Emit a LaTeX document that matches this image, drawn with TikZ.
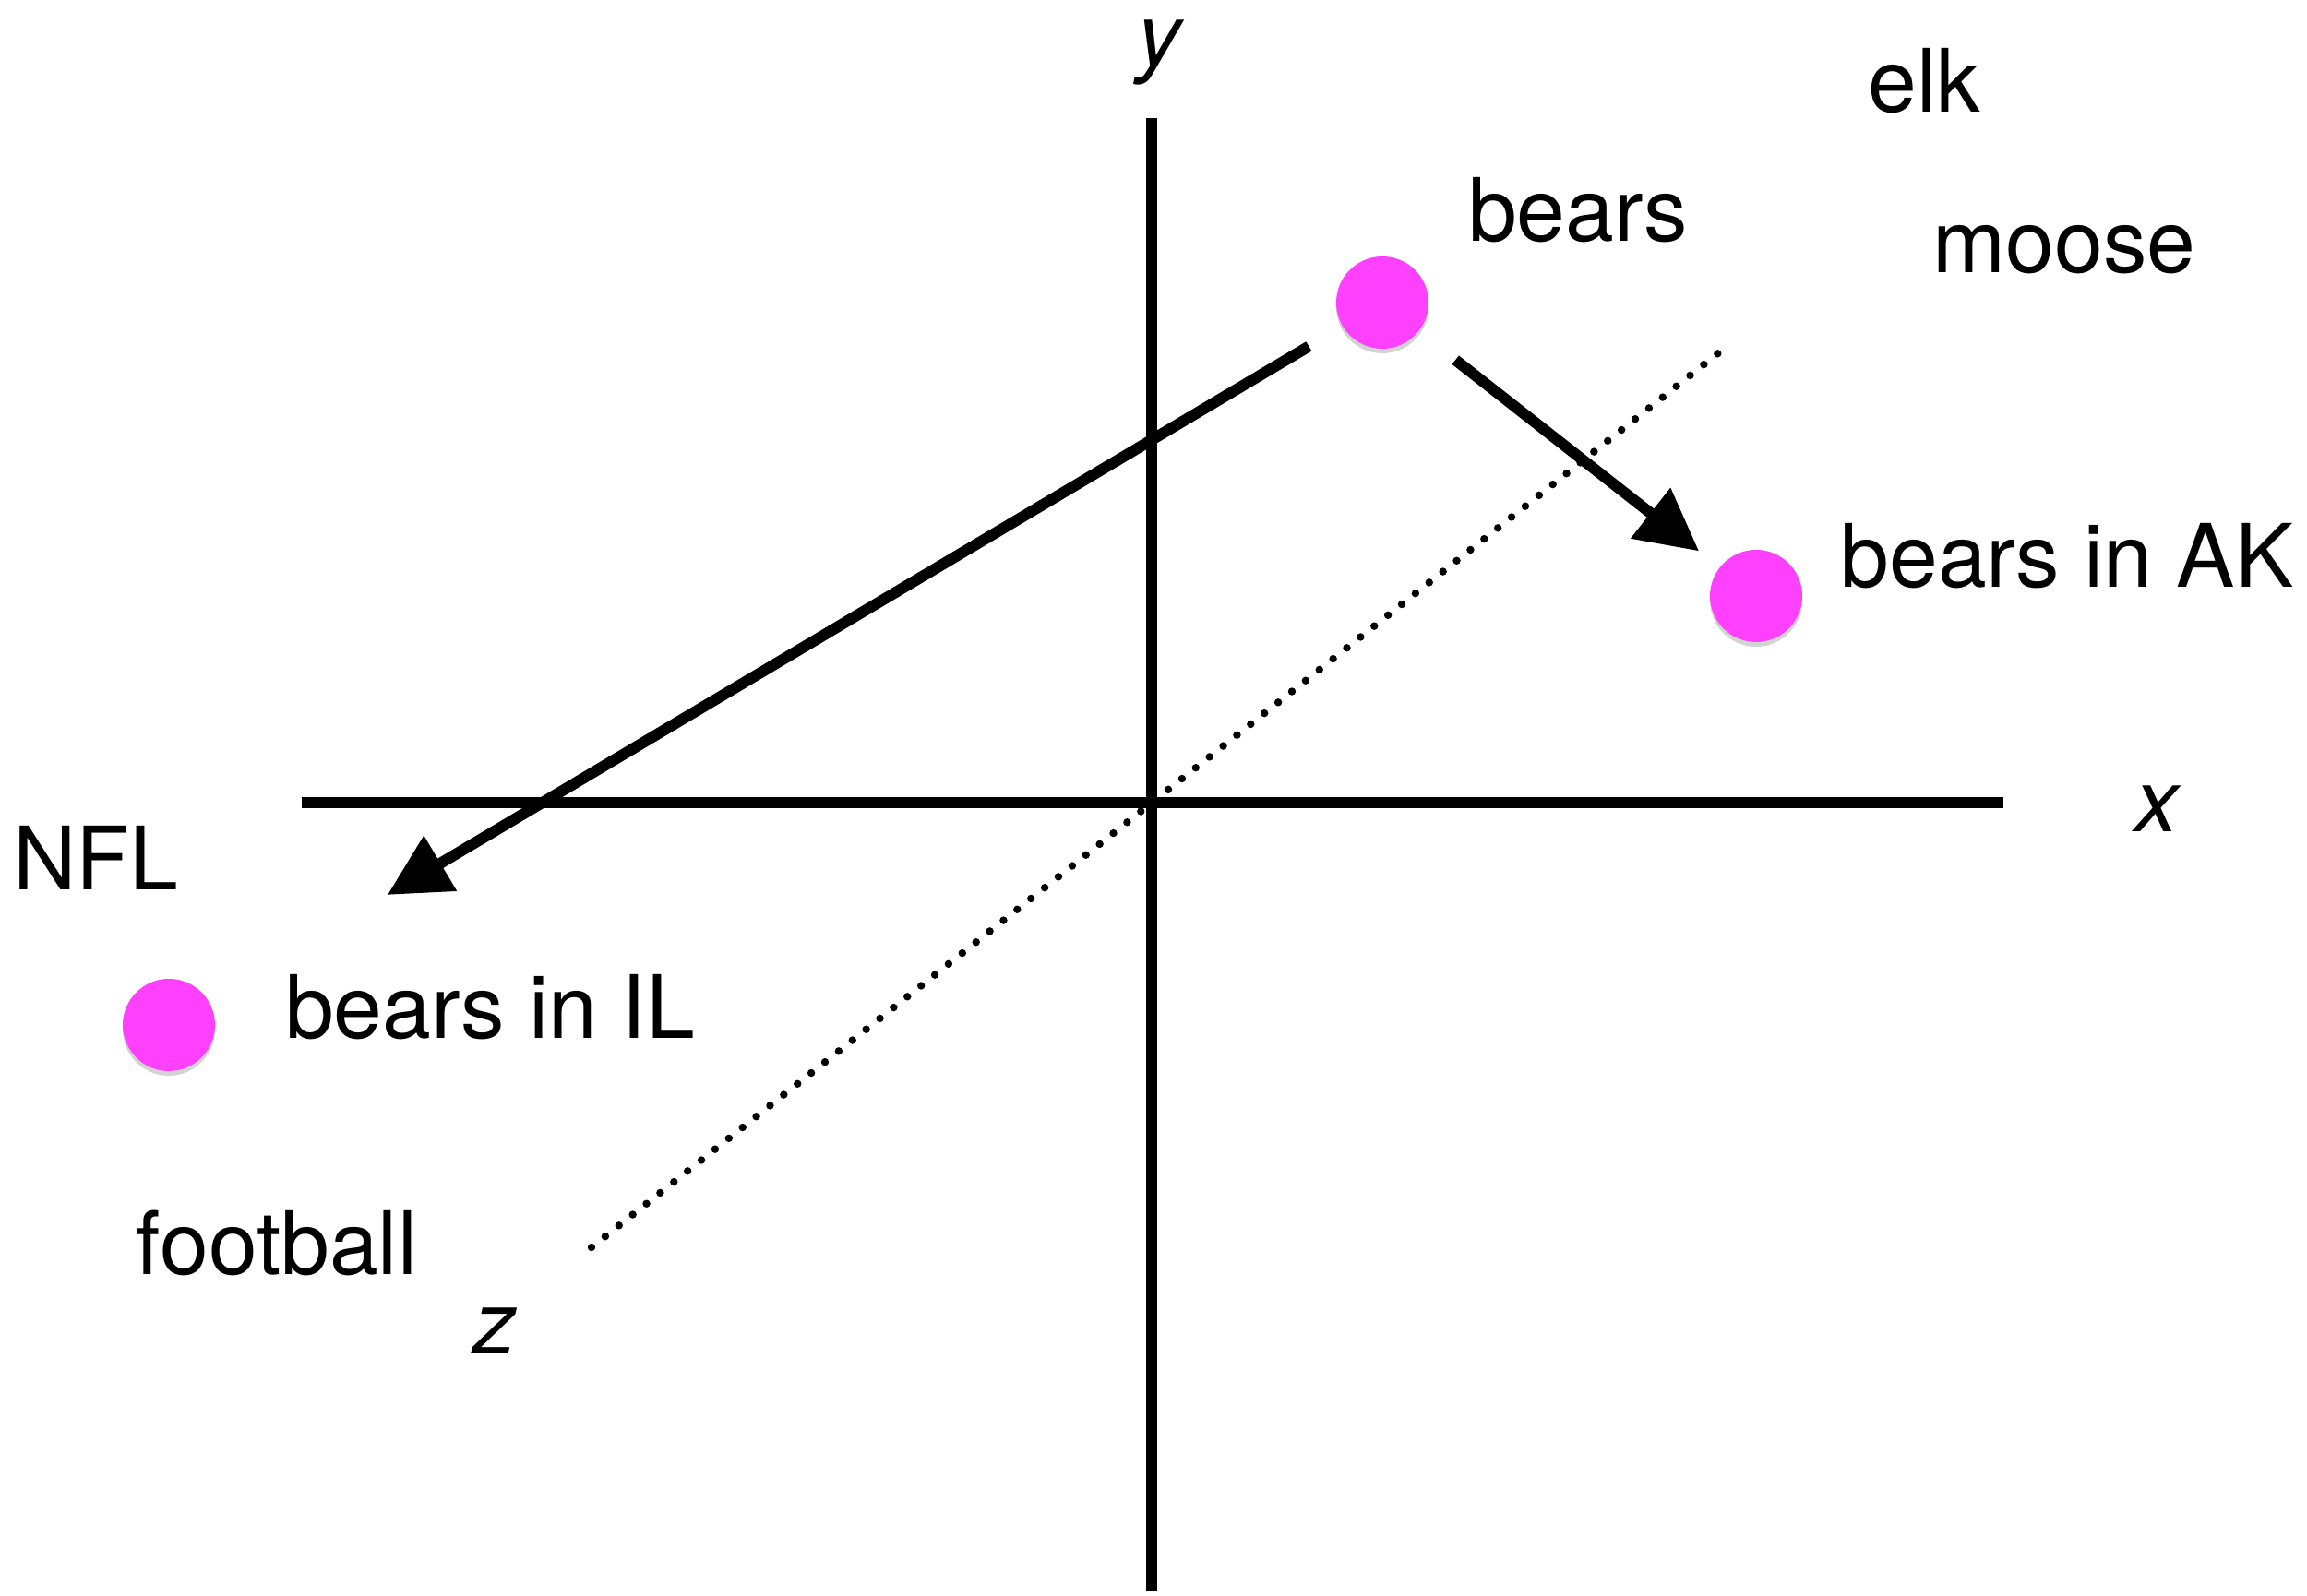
\documentclass[tikz,border=0pt]{standalone}
\usepackage{fontspec}
\setmainfont{TeX Gyre Heros}
\usepackage{tikz}
\usetikzlibrary{arrows.meta, positioning, calc, shadows}
\usepackage{xcolor}
\definecolor{dotpink}{RGB}{255,64,255}

\begin{document}
\begin{tikzpicture}[
    axis/.style={line width=3.6pt},
    word/.style={font=\fontsize{27}{32}\selectfont, inner sep=0pt},
    point/.style={circle, fill=dotpink, minimum size=1cm, inner sep=0pt,
      drop shadow={opacity=0.35, shadow xshift=0pt, shadow yshift=-0.05cm}},
    move/.style={line width=3.4pt, -{Triangle[length=19pt,width=19pt]}}
  ]
  \useasboundingbox (0,0) rectangle (25,17.29);
  % axes
  \coordinate (ytop) at (12.48,16.01);
  \coordinate (ybot) at (12.48,0.04);
  \coordinate (xleft) at (3.27,8.59);
  \coordinate (xright) at (21.71,8.59);
  \coordinate (zfar) at (18.68,13.51);
  \coordinate (znear) at (6.41,3.77);
  \draw[axis] (ybot) -- (ytop);
  \draw[axis] (xleft) -- (xright);
  \draw[line width=2.4pt, line cap=round, dash pattern=on 0pt off 0.19cm] (znear) -- (zfar);
  \node[word] (ylab) at (12.56,16.72) {\itshape y};
  \node[word] (xlab) at (23.37,8.52) {\itshape x};
  \node[word] (zlab) at (5.36,2.86) {\itshape z};
  % points
  \node[point] (bears) at (14.98,14.01) {};
  \node[point] (ak) at (19.03,10.83) {};
  \node[point] (il) at (1.83,6.18) {};
  \draw[move, shorten <=0.42cm, shorten >=2.25cm] (bears) -- (il);
  \draw[move, shorten <=0.5cm, shorten >=0.28cm] (bears) -- (ak);
  % words
  \node[word] (bearslab) at (17.10,15.01) {bears};
  \node[word] (aklab) at (22.40,11.26) {bears in AK};
  \node[word] (illab) at (5.31,6.37) {bears in IL};
  \node[word] (elk) at (20.85,16.41) {elk};
  \node[word] (moose) at (22.37,14.58) {moose};
  \node[word] (nfl) at (1.04,7.99) {NFL};
  \node[word] (football) at (3.00,3.82) {football};
\end{tikzpicture}
\end{document}
